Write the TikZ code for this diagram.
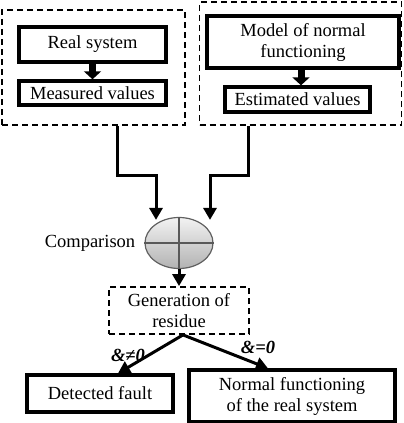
\documentclass[tikz,border=0pt]{standalone}
\usepackage{fontspec}
\setmainfont{Liberation Serif}
\usetikzlibrary{arrows.meta,shapes.geometric}

\begin{document}
\begin{tikzpicture}[x=1pt,y=-1pt,
    font=\fontsize{18.5}{21}\selectfont,
    box/.style={draw, line width=3.4pt, inner sep=0pt, align=center},
    dbox/.style={draw, line width=1.8pt, dash pattern=on 6pt off 4pt, inner sep=0pt, align=center},
    conn/.style={line width=3pt, -{Triangle[length=12pt,width=13pt]}},
    blockarrow/.style={line width=7pt, -{Triangle[length=8pt,width=17pt]}},
    lbl/.style={font=\fontsize{18.5}{21}\selectfont\bfseries\itshape}]
    \useasboundingbox (0,0) rectangle (404,423);

    % the two groups
    \node[dbox, minimum width=183pt, minimum height=115pt] (lsys) at (93.5,67.5) {};
    \node[dbox, minimum width=202pt, minimum height=123pt] (rsys) at (300.5,63.5) {};

    \node[box, minimum width=147pt, minimum height=35pt] (real) at (92.5,44.5) {Real system};
    \node[box, minimum width=147pt, minimum height=24pt] (meas) at (92.5,93) {Measured values};
    \node[box, minimum width=192pt, minimum height=52pt] (model) at (303,42) {Model of normal\\functioning};
    \node[box, minimum width=145pt, minimum height=25pt] (est) at (297.5,99.5) {Estimated values};

    \draw[blockarrow] (real) -- (meas);
    \draw[blockarrow] ([xshift=-2pt]model.south) -- ([xshift=-2pt]model.south |- est.north);

    % comparison
    \node[ellipse, draw=gray!75!black, line width=1.2pt, top color=gray!10, bottom color=gray!60,
          minimum width=68pt, minimum height=51pt, inner sep=0pt] (comp) at (179,243) {};
    \draw[gray!70!black, line width=1.2pt] (comp.north) -- (comp.south);
    \draw[gray!70!black, line width=1.2pt] (comp.west) -- (comp.east);
    \node (complbl) at (90,243) {Comparison};

    \coordinate (ljoin) at (156,175);
    \coordinate (rjoin) at (210,175);
    \draw[conn] ([xshift=23.5pt]lsys.south) |- (ljoin) -- ([yshift=-3pt]ljoin |- comp.north);
    \draw[conn] ([xshift=-52.5pt]rsys.south) |- (rjoin) -- ([yshift=-3pt]rjoin |- comp.north);

    % residue and decision
    \node[dbox, minimum width=140pt, minimum height=47pt] (gen) at (179,310.5) {Generation of\\residue};
    \draw[conn] (comp) -- (gen);

    \node[box, minimum width=146pt, minimum height=37pt] (fault) at (100,393.5) {Detected fault};
    \node[box, minimum width=206pt, minimum height=52pt] (normal) at (292,396) {Normal functioning\\of the real system};

    \draw[conn] ([xshift=4pt]gen.south) -- ([xshift=18pt]fault.north);
    \draw[conn] ([xshift=4pt]gen.south) -- ([xshift=-24pt]normal.north);

    \node[lbl] (neq) at (128,355) {\&≠0};
    \node[lbl] (eq) at (258,347) {\&=0};
\end{tikzpicture}
\end{document}
